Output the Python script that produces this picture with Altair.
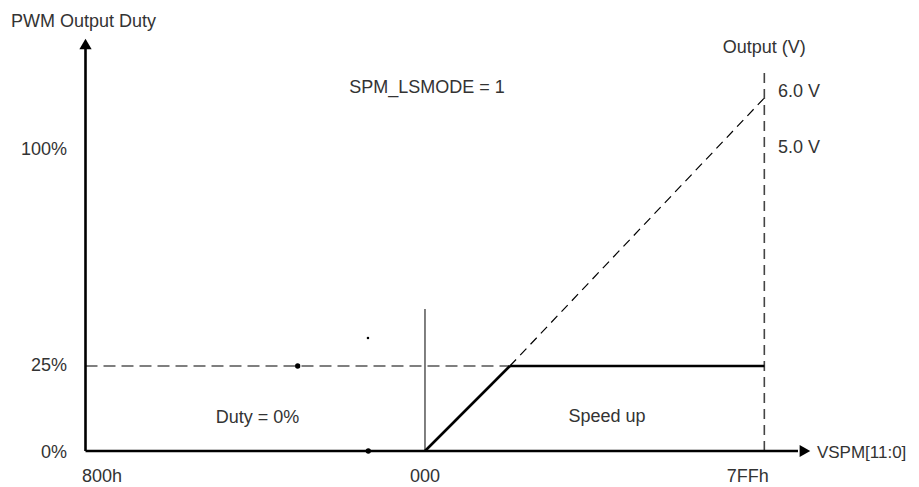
import altair as alt
import pandas as pd

# ---- diagram data (x: VSPM[11:0] code, signed; y: diagram height units) ----
X_MIN, X_000, X_SAT, X_MAX = -2048, 0, 512, 2047
Y_0, Y_25, Y_100 = 0, 85, 301
Y_6V, Y_5V = 359, 303
Y_OUT_TOP = 381
Y_VERT = 142
Y_AXIS_TOP = 403
X_AXIS_END = 2250
Y_EXT_END = 353

# thick solid segments: axes + duty curve
thick_x = [X_MIN, X_MIN, X_000, X_SAT]
thick_y = [Y_0, Y_0, Y_0, Y_25]
thick_x2 = [X_AXIS_END, X_MIN, X_SAT, X_MAX]
thick_y2 = [Y_0, Y_AXIS_TOP, Y_25, Y_25]

# arrow heads
arrow_x = [X_MIN, 2292]
arrow_y = [407, Y_0]
arrow_shape = ["triangle-up", "triangle-right"]

# dots on the curve
dot_x = [-768, -342]
dot_y = [Y_25, Y_0]

# labels (left aligned)
left_text = ["PWM Output Duty", "6.0 V", "5.0 V", "800h"]
left_x = [-2497, 2129, 2129, -2069]
left_y = [429, Y_6V, Y_5V, -26]

# x-axis name
axis_name = "VSPM[11:0]"
axis_name_x, axis_name_y = 2364, -2

# labels (centered)
ctr_text = ["Output (V)", "SPM_LSMODE = 1", "Duty = 0%", "Speed up", "000", "7FFh"]
ctr_x = [2047, 12, -1010, 1098, X_000, 1947]
ctr_y = [403, 363, 33, 34, -26, -26]

tick_text = ["100%", "25%", "0%"]
tick_y = [Y_100, Y_25, -2]
tick_x = -2160

W, H = 903, 478
xs = alt.Scale(domain=[-2515.5, 2931.8], nice=False, zero=False)
ys = alt.Scale(domain=[-35, 443], nice=False, zero=False)

X = lambda f: alt.X(f, type="quantitative", scale=xs, axis=None)
Y = lambda f: alt.Y(f, type="quantitative", scale=ys, axis=None)

thick = alt.Chart(pd.DataFrame({"x": thick_x, "y": thick_y, "x2": thick_x2, "y2": thick_y2})).mark_rule(
    color="black", strokeWidth=2.6, strokeCap="butt").encode(x=X("x"), y=Y("y"), x2="x2", y2="y2")

thin = alt.Chart(pd.DataFrame({"x": [X_000], "y": [Y_0], "y2": [Y_VERT]})).mark_rule(
    color="black", strokeWidth=1).encode(x=X("x"), y=Y("y"), y2="y2")

dash_h = alt.Chart(pd.DataFrame({"x": [X_MIN], "x2": [X_SAT], "y": [Y_25]})).mark_rule(
    color="black", strokeWidth=1.2, strokeDash=[12, 6]).encode(x=X("x"), x2="x2", y=Y("y"))

dash_d = alt.Chart(pd.DataFrame({"x": [X_SAT], "y": [Y_25], "x2": [X_MAX], "y2": [Y_EXT_END]})).mark_rule(
    color="black", strokeWidth=1.2, strokeDash=[9, 6]).encode(x=X("x"), y=Y("y"), x2="x2", y2="y2")

dash_v = alt.Chart(pd.DataFrame({"x": [X_MAX], "y": [Y_0], "y2": [Y_OUT_TOP]})).mark_rule(
    color="#444", strokeWidth=1.6, strokeDash=[10, 6]).encode(x=X("x"), y=Y("y"), y2="y2")

arrows = alt.Chart(pd.DataFrame({"x": arrow_x, "y": arrow_y, "s": arrow_shape})).mark_point(
    filled=True, color="black", opacity=1, size=150).encode(
    x=X("x"), y=Y("y"), shape=alt.Shape("s:N", scale=None, legend=None))

dots = alt.Chart(pd.DataFrame({"x": dot_x, "y": dot_y})).mark_circle(
    color="black", opacity=1, size=28).encode(x=X("x"), y=Y("y"))

speck = alt.Chart(pd.DataFrame({"x": [-344], "y": [113]})).mark_square(
    color="black", opacity=1, size=5).encode(x=X("x"), y=Y("y"))

txt = dict(font="Liberation Sans", fontSize=18, color="#333", baseline="middle")

labels_l = alt.Chart(pd.DataFrame({"x": left_x, "y": left_y, "t": left_text})).mark_text(
    align="left", **txt).encode(x=X("x"), y=Y("y"), text="t:N")

name_lbl = alt.Chart(pd.DataFrame({"x": [axis_name_x], "y": [axis_name_y], "t": [axis_name]})).mark_text(
    align="left", font="Liberation Sans", fontSize=17, color="#333", baseline="middle").encode(
    x=X("x"), y=Y("y"), text="t:N")

labels_c = alt.Chart(pd.DataFrame({"x": ctr_x, "y": ctr_y, "t": ctr_text})).mark_text(
    align="center", **txt).encode(x=X("x"), y=Y("y"), text="t:N")

ticks = alt.Chart(pd.DataFrame({"y": tick_y, "t": tick_text})).mark_text(
    align="right", **txt).encode(x=alt.datum(tick_x, scale=xs), y=Y("y"), text="t:N")

chart = alt.layer(dash_h, dash_d, dash_v, thin, thick, arrows, dots, speck,
                  labels_l, name_lbl, labels_c, ticks).properties(
    width=W, height=H, padding=0, autosize=alt.AutoSizeParams(type="none"), background="white"
).configure_view(strokeWidth=0)

chart.save("out.html", embed_options={"renderer": "svg", "actions": False})
